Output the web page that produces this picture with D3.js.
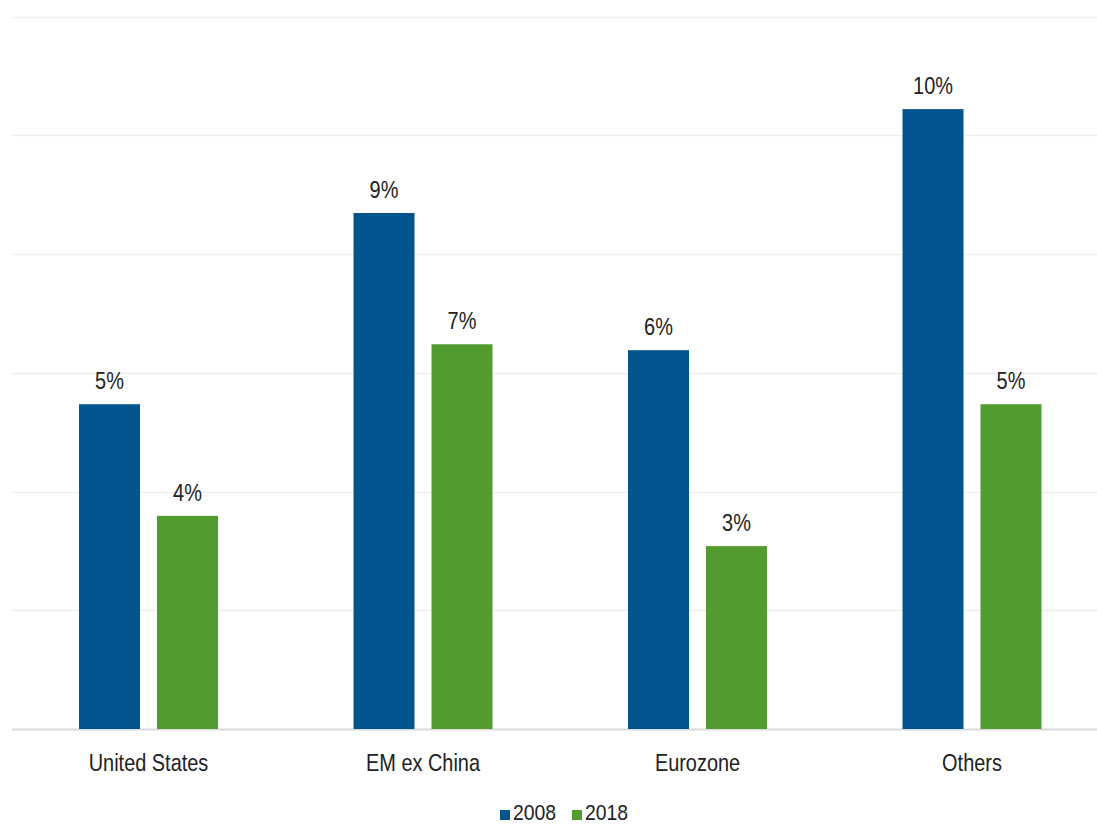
<!DOCTYPE html>
<html><head><meta charset="utf-8">
<script src="https://cdn.jsdelivr.net/npm/d3@7"></script>
<style>
html,body{margin:0;padding:0;background:#fff;}
text{font-family:"Liberation Sans Narrow","Arial Narrow","Liberation Sans",Arial,sans-serif;fill:#222;}
</style></head>
<body>
<svg id="chart" width="1097" height="826"></svg>
<script>
const categories = ["United States","EM ex China","Eurozone","Others"];
const seriesNames = ["2008","2018"];
const values2008 = [5.47, 8.69, 6.38, 10.44];
const values2018 = [3.59, 6.48, 3.08, 5.47];
const labels2008 = ["5%","9%","6%","10%"];
const labels2018 = ["4%","7%","3%","5%"];
const gridTicks = [0,2,4,6,8,10,12];
const colors = ["#02548f","#529b2f"];

const SX = 0.83;
const svg = d3.select("#chart");
const y = d3.scaleLinear().domain([0,12]).range([729,16.5]);
const x0 = d3.scaleBand().domain(categories).range([11.25,1109.25]).padding(0);
const x1 = d3.scaleBand().domain(seriesNames).range([0,x0.bandwidth()]).paddingInner(0.218).paddingOuter(0.869);

// gridlines
svg.append("g").selectAll("line").data(gridTicks).join("line")
  .attr("x1",12).attr("x2",1097)
  .attr("y1",d=>Math.round(y(d))+0.5).attr("y2",d=>Math.round(y(d))+0.5)
  .attr("stroke",d=>d===0?"#d9d9d9":"#eeeeee").attr("stroke-width",d=>d===0?2:1.5);

const data = categories.map((c,i)=>({cat:c, vals:[
  {s:"2008", v:values2008[i], l:labels2008[i], c:colors[0]},
  {s:"2018", v:values2018[i], l:labels2018[i], c:colors[1]}]}));

const g = svg.append("g").selectAll("g").data(data).join("g")
  .attr("transform",d=>`translate(${x0(d.cat)},0)`);
g.selectAll("rect").data(d=>d.vals).join("rect")
  .attr("x",d=>x1(d.s)).attr("width",x1.bandwidth())
  .attr("y",d=>y(d.v)).attr("height",d=>y(0)-y(d.v))
  .attr("fill",d=>d.c);
g.selectAll("text").data(d=>d.vals).join("text")
  .attr("transform",d=>`translate(${x1(d.s)+x1.bandwidth()/2},${y(d.v)-15}) scale(${SX},1)`)
  .attr("text-anchor","middle").attr("font-size",24).text(d=>d.l);

// category labels
svg.append("g").selectAll("text").data(categories).join("text")
  .attr("transform",d=>`translate(${x0(d)+x0.bandwidth()/2},771) scale(${SX},1)`)
  .attr("text-anchor","middle").attr("font-size",24).text(d=>d);

// legend
const leg = svg.append("g");
const legX = [500, 572];
seriesNames.forEach((s,i)=>{
  leg.append("rect").attr("x",legX[i]).attr("y",810).attr("width",10).attr("height",10).attr("fill",colors[i]);
  leg.append("text").attr("transform",`translate(${legX[i]+13},820) scale(0.88,1)`)
    .attr("font-size",22).text(s);
});
</script>
</body></html>
